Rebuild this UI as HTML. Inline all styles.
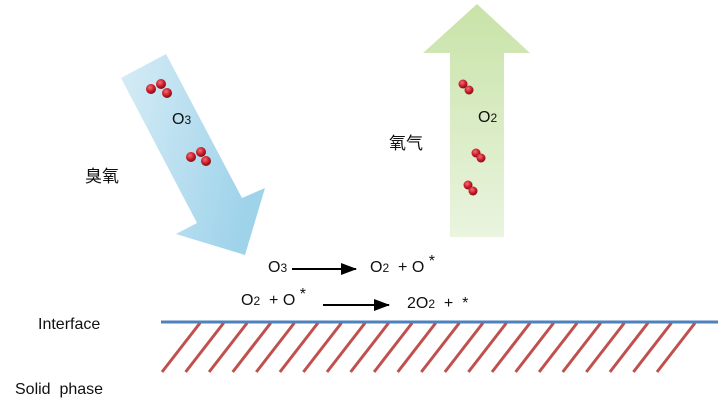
<!DOCTYPE html>
<html><head><meta charset="utf-8"><style>
html,body{margin:0;padding:0;background:#fff}
svg{display:block}
text{font-family:"Liberation Sans","Noto Sans CJK SC",sans-serif;fill:#111;white-space:pre}
</style></head><body>
<svg width="724" height="405" viewBox="0 0 724 405" xmlns="http://www.w3.org/2000/svg">
<defs>
<linearGradient id="bg" x1="0" y1="0" x2="1" y2="0.3">
<stop offset="0" stop-color="#d6ecf6"/><stop offset="1" stop-color="#9fd3ea"/></linearGradient>
<linearGradient id="gg" x1="0" y1="0" x2="0" y2="1">
<stop offset="0" stop-color="#c8e3a8"/><stop offset="1" stop-color="#eaf4df"/></linearGradient>
<radialGradient id="mol" cx="0.4" cy="0.35" r="0.6">
<stop offset="0" stop-color="#f07070"/><stop offset="0.6" stop-color="#d02030"/><stop offset="1" stop-color="#8a1018"/></radialGradient>
<marker id="ah" markerWidth="16" markerHeight="12" refX="15" refY="6" orient="auto" markerUnits="userSpaceOnUse">
<path d="M0,0 L16,6 L0,12 z" fill="#000"/></marker>
</defs>
<polygon points="121,78 166,54 242,198 265,188 245,255 176,234 197,223" fill="url(#bg)"/>
<polygon points="450,237 450,53 423,53 477,4 530,53 504,53 504,237" fill="url(#gg)"/>
<g fill="url(#mol)">
<circle cx="151" cy="89" r="5"/><circle cx="161" cy="84" r="5"/><circle cx="167" cy="93" r="5"/>
<circle cx="191" cy="157" r="5"/><circle cx="201" cy="152" r="5"/><circle cx="206" cy="161" r="5"/>
<circle cx="463" cy="84" r="4.5"/><circle cx="469" cy="90" r="4.5"/>
<circle cx="476" cy="153" r="4.5"/><circle cx="481" cy="158" r="4.5"/>
<circle cx="468" cy="185" r="4.5"/><circle cx="473" cy="191" r="4.5"/>
</g>
<text x="172" y="124" font-size="16">O<tspan font-size="12">3</tspan></text>
<text x="478" y="122" font-size="16">O<tspan font-size="12">2</tspan></text>
<text x="85" y="182" font-size="17" fill="#333">臭氧</text>
<text x="389" y="149" font-size="17" fill="#333">氧气</text>
<text x="268" y="272" font-size="16">O<tspan font-size="12">3</tspan></text>
<line x1="292" y1="269" x2="356" y2="269" stroke="#000" stroke-width="2" marker-end="url(#ah)"/>
<text x="370" y="272" font-size="16">O<tspan font-size="12">2</tspan>  + O <tspan dy="-6">*</tspan></text>
<text x="241" y="305" font-size="16">O<tspan font-size="12">2</tspan>  + O <tspan dy="-6">*</tspan></text>
<line x1="323" y1="305" x2="389" y2="305" stroke="#000" stroke-width="2" marker-end="url(#ah)"/>
<text x="407" y="308" font-size="16">2O<tspan font-size="12">2</tspan>  +  *</text>
<text x="38" y="329" font-size="16">Interface</text>
<text x="15" y="394" font-size="16">Solid  phase</text>
<g stroke="#c0504d" stroke-width="3">
<line x1="200" y1="323" x2="162" y2="372"/><line x1="223.6" y1="323" x2="185.6" y2="372"/><line x1="247.1" y1="323" x2="209.1" y2="372"/><line x1="270.7" y1="323" x2="232.7" y2="372"/><line x1="294.3" y1="323" x2="256.3" y2="372"/><line x1="317.9" y1="323" x2="279.9" y2="372"/><line x1="341.4" y1="323" x2="303.4" y2="372"/><line x1="365" y1="323" x2="327" y2="372"/><line x1="388.6" y1="323" x2="350.6" y2="372"/><line x1="412.1" y1="323" x2="374.1" y2="372"/><line x1="435.7" y1="323" x2="397.7" y2="372"/><line x1="459.3" y1="323" x2="421.3" y2="372"/><line x1="482.9" y1="323" x2="444.9" y2="372"/><line x1="506.4" y1="323" x2="468.4" y2="372"/><line x1="530" y1="323" x2="492" y2="372"/><line x1="553.6" y1="323" x2="515.6" y2="372"/><line x1="577.1" y1="323" x2="539.1" y2="372"/><line x1="600.7" y1="323" x2="562.7" y2="372"/><line x1="624.3" y1="323" x2="586.3" y2="372"/><line x1="647.9" y1="323" x2="609.9" y2="372"/><line x1="671.4" y1="323" x2="633.4" y2="372"/><line x1="695" y1="323" x2="657" y2="372"/>
</g>
<line x1="161" y1="322" x2="718" y2="322" stroke="#4f81bd" stroke-width="3"/>
</svg>
</body></html>
